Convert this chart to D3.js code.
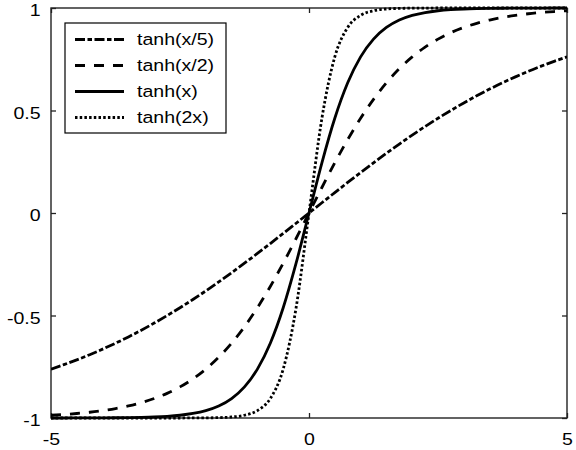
<!DOCTYPE html>
<html><head><meta charset="utf-8">
<script src="https://cdn.jsdelivr.net/npm/d3@7"></script>
<style>body{margin:0;background:#fff} text{font-family:"Liberation Sans",Arial,Helvetica,sans-serif}</style>
</head><body>
<svg id="c" width="576" height="450"></svg>
<script>
const xValues = [-5,-4.75,-4.5,-4.25,-4,-3.75,-3.5,-3.25,-3,-2.75,-2.5,-2.25,-2,-1.75,-1.5,-1.25,-1,-0.75,-0.5,-0.25,
  0,0.25,0.5,0.75,1,1.25,1.5,1.75,2,2.25,2.5,2.75,3,3.25,3.5,3.75,4,4.25,4.5,4.75,5];
const tanhX5 = [-0.7616,-0.7398,-0.7163,-0.6911,-0.6640,-0.6351,-0.6044,-0.5717,-0.5370,-0.5005,-0.4621,-0.4219,-0.3800,-0.3364,-0.2913,-0.2449,-0.1974,-0.1489,-0.0997,-0.0500,
  0,0.0500,0.0997,0.1489,0.1974,0.2449,0.2913,0.3364,0.3800,0.4219,0.4621,0.5005,0.5370,0.5717,0.6044,0.6351,0.6640,0.6911,0.7163,0.7398,0.7616];
const tanhX2 = [-0.9866,-0.9828,-0.9780,-0.9719,-0.9640,-0.9541,-0.9414,-0.9254,-0.9051,-0.8798,-0.8483,-0.8093,-0.7616,-0.7039,-0.6351,-0.5546,-0.4621,-0.3584,-0.2449,-0.1244,
  0,0.1244,0.2449,0.3584,0.4621,0.5546,0.6351,0.7039,0.7616,0.8093,0.8483,0.8798,0.9051,0.9254,0.9414,0.9541,0.9640,0.9719,0.9780,0.9828,0.9866];
const tanhX = [-0.9999,-0.9999,-0.9998,-0.9996,-0.9993,-0.9989,-0.9982,-0.9970,-0.9951,-0.9919,-0.9866,-0.9780,-0.9640,-0.9414,-0.9051,-0.8483,-0.7616,-0.6351,-0.4621,-0.2449,
  0,0.2449,0.4621,0.6351,0.7616,0.8483,0.9051,0.9414,0.9640,0.9780,0.9866,0.9919,0.9951,0.9970,0.9982,0.9989,0.9993,0.9996,0.9998,0.9999,0.9999];
const tanh2X = [-1,-1,-1,-1,-1,-1,-1,-1,-1,-1,-0.9999,-0.9998,-0.9993,-0.9982,-0.9951,-0.9866,-0.9640,-0.9051,-0.7616,-0.4621,
  0,0.4621,0.7616,0.9051,0.9640,0.9866,0.9951,0.9982,0.9993,0.9998,0.9999,1,1,1,1,1,1,1,1,1,1];
const seriesNames = ["tanh(x/5)","tanh(x/2)","tanh(x)","tanh(2x)"];
const xTicks = [-5,0,5];
const yTicks = [-1,-0.5,0,0.5,1];

const series = [
  {name: seriesNames[0], values: tanhX5, dash: "10,2.5,4.5,2.5"},
  {name: seriesNames[1], values: tanhX2, dash: "10,9"},
  {name: seriesNames[2], values: tanhX,  dash: null},
  {name: seriesNames[3], values: tanh2X, dash: "2.5,2.2"}
];

const svg = d3.select("#c");
const L = 51, R = 567, T = 8, B = 418;
const x = d3.scaleLinear().domain([-5,5]).range([L,R]);
const y = d3.scaleLinear().domain([-1,1]).range([B,T]);
const SX = 1.15;
const axisColor = "#222";

svg.append("defs").append("clipPath").attr("id","clip")
  .append("rect").attr("x",L).attr("y",T-2).attr("width",R-L).attr("height",B-T+4);

function styleAxis(g, showText) {
  g.select(".domain").remove();
  g.selectAll(".tick line").attr("stroke",axisColor).attr("stroke-width",1.3);
  g.selectAll(".tick text").attr("fill","#000").style("font-size","17px")
    .attr("transform",`scale(${SX},1)`);
  if (!showText) g.selectAll(".tick text").remove();
}

svg.append("g").attr("transform",`translate(0,${B})`)
  .call(d3.axisBottom(x).tickValues(xTicks).tickFormat(d=>String(d)).tickSizeInner(-5).tickSizeOuter(0).tickPadding(15))
  .call(g=>styleAxis(g,true));
svg.append("g").attr("transform",`translate(0,${T})`)
  .call(d3.axisTop(x).tickValues(xTicks).tickSizeInner(-5).tickSizeOuter(0))
  .call(g=>styleAxis(g,false));
svg.append("g").attr("transform",`translate(${L},0)`)
  .call(d3.axisLeft(y).tickValues(yTicks).tickFormat(d=>String(d)).tickSizeInner(-5).tickSizeOuter(0).tickPadding(9))
  .call(g=>styleAxis(g,true))
  .call(g=>g.selectAll(".tick text").attr("dy","0.46em"));
svg.append("g").attr("transform",`translate(${R},0)`)
  .call(d3.axisRight(y).tickValues(yTicks).tickSizeInner(-5).tickSizeOuter(0))
  .call(g=>styleAxis(g,false));

svg.append("rect").attr("x",L).attr("y",T).attr("width",R-L).attr("height",B-T)
  .attr("fill","none").attr("stroke",axisColor).attr("stroke-width",1.4);

const line = d3.line().x((d,i)=>x(xValues[i])).y(d=>y(d)).curve(d3.curveMonotoneX);

svg.append("g").attr("clip-path","url(#clip)")
  .selectAll("path").data(series).join("path")
  .attr("d", d=>line(d.values))
  .attr("fill","none").attr("stroke","#000").attr("stroke-width",2.8)
  .attr("stroke-dasharray", d=>d.dash);

// legend
const lg = svg.append("g");
lg.append("rect").attr("x",65).attr("y",23).attr("width",161).attr("height",110)
  .attr("fill","#fff").attr("stroke","#000").attr("stroke-width",1.2);
const rows = lg.selectAll("g.row").data(series).join("g").attr("class","row")
  .attr("transform",(d,i)=>`translate(0,${39.5 + i*26})`);
rows.append("line").attr("x1",75).attr("x2",124).attr("y1",0).attr("y2",0)
  .attr("stroke","#000").attr("stroke-width",2.8).attr("stroke-dasharray",d=>d.dash);
rows.append("text").attr("transform",`translate(137,0) scale(${SX},1)`)
  .attr("dy","0.35em").style("font-size","17px").attr("fill","#000").text(d=>d.name);
</script>
</body></html>
